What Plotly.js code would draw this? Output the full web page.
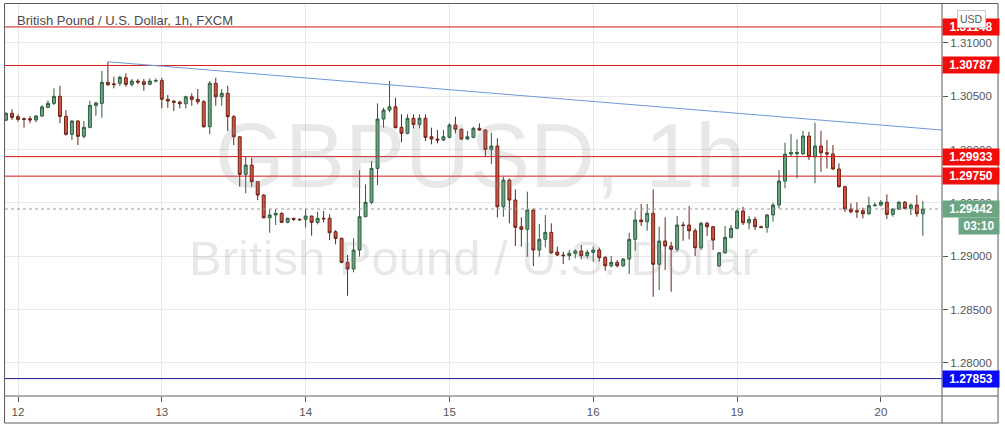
<!DOCTYPE html>
<html>
<head>
<meta charset="utf-8">
<script src="https://cdn.plot.ly/plotly-3.0.1.min.js"></script>
<style>
html,body{margin:0;padding:0;background:#fff;}
#chart{width:1005px;height:427px;}
</style>
</head>
<body>
<div id="chart"></div>
<script>
// ---- Data (GBP/USD, 1h, FXCM) ----
const firstHour = -2; // first bar: two hours before day "12" starts
const opens = [1.30274,1.30339,1.30307,1.30288,1.30288,1.30276,1.30313,1.30395,1.30432,1.30498,1.30310,1.30142,1.30266,1.30123,1.30207,1.30413,1.30432,1.30629,1.30615,1.30620,1.30672,1.30610,1.30641,1.30635,1.30610,1.30641,
1.30645,1.30470,1.30454,1.30444,1.30428,1.30494,1.30470,1.30447,1.30213,1.30620,1.30494,1.30526,1.30307,1.30119,1.29767,1.29854,1.29698,1.29573,1.29360,1.29386,1.29401,1.29317,1.29355,1.29345,
1.29345,1.29376,1.29317,1.29355,1.29355,1.29229,1.29167,1.28942,1.28880,1.29058,1.29370,1.29505,1.29823,1.30285,1.30369,1.30400,1.30207,1.30151,1.30292,1.30235,1.30292,1.30119,1.30098,1.30088,
1.30114,1.30229,1.30189,1.30098,1.30114,1.30198,1.30182,1.30001,1.30032,1.29463,1.29713,1.29526,1.29276,1.29252,1.29432,1.29058,1.29158,1.29223,1.29039,1.29011,1.29005,1.29027,1.29048,1.29005,
1.29036,1.29058,1.28989,1.28910,1.28942,1.28910,1.28973,1.29158,1.29339,1.29323,1.29401,1.28924,1.29142,1.29095,1.29064,1.29292,1.29292,1.29238,1.29079,1.29308,1.29276,1.28908,
1.29032,1.29176,1.29261,1.29423,1.29313,1.29345,1.29276,1.29270,1.29386,1.29479,1.29704,1.29957,1.29960,1.29960,1.30126,1.29932,1.30032,1.29969,1.29958,1.29817,1.29651,1.29442,1.29426,1.29426,
1.29398,1.29473,1.29479,1.29505,1.29392,1.29442,1.29505,1.29448,1.29479,1.29398];
const highs = [1.30348,1.30376,1.30329,1.30301,1.30313,1.30323,1.30416,1.30460,1.30573,1.30597,1.30369,1.30276,1.30276,1.30266,1.30457,1.30447,1.30735,1.30822,1.30681,1.30691,1.30713,1.30660,1.30660,1.30660,1.30666,1.30666,
1.30672,1.30510,1.30456,1.30456,1.30503,1.30526,1.30566,1.30463,1.30641,1.30672,1.30566,1.30597,1.30323,1.30125,1.29932,1.29922,1.29704,1.29580,1.29442,1.29442,1.29411,1.29360,1.29360,1.29355,
1.29442,1.29379,1.29416,1.29423,1.29392,1.29245,1.29173,1.29011,1.29167,1.29807,1.29673,1.29892,1.30432,1.30391,1.30641,1.30485,1.30329,1.30329,1.30329,1.30329,1.30329,1.30204,1.30182,1.30182,
1.30245,1.30307,1.30198,1.30173,1.30213,1.30245,1.30189,1.30157,1.30104,1.29744,1.29729,1.29626,1.29364,1.29604,1.29448,1.29301,1.29386,1.29308,1.29089,1.29042,1.29058,1.29064,1.29105,1.29058,
1.29089,1.29080,1.29001,1.29001,1.28964,1.28980,1.29220,1.29426,1.29489,1.29489,1.29626,1.29276,1.29364,1.29135,1.29376,1.29323,1.29470,1.29261,1.29323,1.29323,1.29283,1.29040,
1.29283,1.29292,1.29439,1.29463,1.29376,1.29370,1.29286,1.29395,1.29501,1.29807,1.30063,1.30145,1.30095,1.30175,1.30166,1.30250,1.30175,1.30088,1.30041,1.29870,1.29660,1.29495,1.29504,1.29454,
1.29557,1.29504,1.29526,1.29579,1.29448,1.29517,1.29517,1.29495,1.29573,1.29517];
const lows = [1.30271,1.30276,1.30260,1.30204,1.30245,1.30254,1.30307,1.30385,1.30416,1.30245,1.30129,1.30088,1.30041,1.30104,1.30198,1.30316,1.30297,1.30597,1.30573,1.30594,1.30588,1.30588,1.30610,1.30550,1.30604,1.30629,
1.30385,1.30391,1.30360,1.30385,1.30385,1.30410,1.30423,1.30204,1.30142,1.30410,1.30410,1.30173,1.30041,1.29651,1.29589,1.29651,1.29526,1.29355,1.29220,1.29292,1.29310,1.29308,1.29329,1.29330,
1.29267,1.29192,1.29298,1.29317,1.29151,1.29111,1.28933,1.28629,1.28849,1.28995,1.29365,1.29486,1.29667,1.30204,1.30348,1.30198,1.30067,1.30142,1.30198,1.30198,1.30079,1.30048,1.30057,1.30079,
1.30104,1.30151,1.30088,1.30088,1.30104,1.30176,1.29932,1.29863,1.29364,1.29370,1.29308,1.29095,1.29089,1.28995,1.28908,1.28995,1.29083,1.29020,1.29001,1.28926,1.28964,1.28980,1.28971,1.28980,
1.28948,1.28948,1.28864,1.28895,1.28895,1.28901,1.28833,1.29051,1.29283,1.29238,1.28620,1.28683,1.28870,1.28667,1.29042,1.29145,1.29158,1.29001,1.29058,1.29189,1.29058,1.28901,
1.29020,1.29167,1.29252,1.29292,1.29252,1.29245,1.29261,1.29220,1.29323,1.29448,1.29636,1.29932,1.29729,1.29948,1.29901,1.29683,1.29791,1.29823,1.29807,1.29642,1.29416,1.29401,1.29360,1.29355,
1.29386,1.29467,1.29467,1.29348,1.29370,1.29433,1.29439,1.29386,1.29370,1.29192];
const closes = [1.30339,1.30301,1.30282,1.30282,1.30276,1.30313,1.30398,1.30432,1.30498,1.30310,1.30142,1.30266,1.30123,1.30207,1.30413,1.30435,1.30629,1.30606,1.30608,1.30676,1.30610,1.30641,1.30632,1.30610,1.30641,1.30645,
1.30470,1.30454,1.30442,1.30428,1.30494,1.30470,1.30447,1.30213,1.30620,1.30494,1.30526,1.30307,1.30119,1.29767,1.29854,1.29698,1.29573,1.29360,1.29386,1.29401,1.29317,1.29355,1.29345,1.29342,
1.29376,1.29317,1.29355,1.29350,1.29220,1.29167,1.28942,1.28880,1.29058,1.29370,1.29505,1.29823,1.30285,1.30369,1.30400,1.30204,1.30151,1.30292,1.30235,1.30292,1.30114,1.30098,1.30088,1.30119,
1.30229,1.30189,1.30098,1.30119,1.30198,1.30182,1.30001,1.30032,1.29463,1.29713,1.29526,1.29270,1.29252,1.29432,1.29058,1.29158,1.29223,1.29032,1.29011,1.29005,1.29027,1.29048,1.29005,1.29036,
1.29058,1.28985,1.28910,1.28942,1.28910,1.28973,1.29158,1.29339,1.29323,1.29401,1.28924,1.29142,1.29095,1.29064,1.29292,1.29288,1.29238,1.29079,1.29308,1.29276,1.29151,1.29032,
1.29176,1.29261,1.29423,1.29313,1.29345,1.29276,1.29270,1.29386,1.29479,1.29704,1.29957,1.29973,1.29973,1.30126,1.29932,1.30032,1.29969,1.29958,1.29817,1.29651,1.29442,1.29416,1.29416,1.29398,
1.29473,1.29479,1.29505,1.29392,1.29442,1.29505,1.29448,1.29479,1.29398,1.29442];

const dayStartHours = [0, 24, 48, 72, 96, 120, 144];
const dayLabels = ['12', '13', '14', '15', '16', '19', '20'];

const resistanceLevels = [1.31148, 1.30787, 1.29933, 1.29750];
const supportLevel = 1.27853;
const trendEndPrice = 1.30182;   // trend line value at the right edge
const countdown = '03:10';
const titleText = 'British Pound / U.S. Dollar, 1h, FXCM';
const watermarkSymbol = 'GBPUSD, 1h';
const watermarkName = 'British Pound / U.S. Dollar';
const currency = 'USD';

// ---- Build ----
const xs = opens.map((_, i) => i + firstHour);
const xRange = [-2.17, 154.2];
const yRange = [1.27690, 1.31363];
const lastPrice = closes[closes.length - 1];
let peakIdx = 0;
highs.forEach((h, i) => { if (h > highs[peakIdx]) peakIdx = i; });

const FONT = 'Liberation Sans, Arial, sans-serif';
const AXC = '#555555';

const trace = {
  type: 'candlestick',
  x: xs, open: opens, high: highs, low: lows, close: closes,
  increasing: { line: { color: '#2f5e41', width: 1 }, fillcolor: '#6ba583' },
  decreasing: { line: { color: '#6b2418', width: 1 }, fillcolor: '#d75442' },
  whiskerwidth: 0,
  hoverinfo: 'skip',
  showlegend: false
};

const shapes = [];
resistanceLevels.forEach(v => shapes.push({
  type: 'line', xref: 'paper', x0: 0, x1: 1, yref: 'y', y0: v, y1: v,
  line: { color: '#d41a1a', width: 1 }, layer: 'above'
}));
shapes.push({
  type: 'line', xref: 'paper', x0: 0, x1: 1, yref: 'y', y0: supportLevel, y1: supportLevel,
  line: { color: '#1c1c96', width: 1 }, layer: 'above'
});
shapes.push({
  type: 'line', xref: 'x', x0: xs[peakIdx], x1: xRange[1], yref: 'y', y0: highs[peakIdx], y1: trendEndPrice,
  line: { color: '#6f9ad6', width: 1 }, layer: 'above'
});
shapes.push({
  type: 'line', xref: 'paper', x0: 0, x1: 1, yref: 'y', y0: lastPrice, y1: lastPrice,
  line: { color: '#9a9a9a', width: 1, dash: 'dot' }, layer: 'above'
});
// frame & separators
shapes.push({ type: 'rect', xref: 'paper', yref: 'paper', x0: -0.0005, x1: 1.0598, y0: -0.0689, y1: 1.0013,
  line: { color: '#5a5a5a', width: 1 }, layer: 'above' });
shapes.push({ type: 'line', xref: 'paper', yref: 'paper', x0: 1, x1: 1, y0: -0.0689, y1: 1.0013,
  line: { color: '#5a5a5a', width: 1 }, layer: 'above' });
shapes.push({ type: 'line', xref: 'paper', yref: 'paper', x0: -0.0005, x1: 1.0598, y0: 0, y1: 0,
  line: { color: '#5a5a5a', width: 1 }, layer: 'above' });

const annotations = [];
// watermark
annotations.push({ xref: 'paper', yref: 'paper', x: 0.507, y: 0.612, text: watermarkSymbol, showarrow: false,
  xanchor: 'center', yanchor: 'middle',
  font: { family: 'Liberation Sans, sans-serif', size: 90, color: 'rgba(140,140,140,0.2)' } });
annotations.push({ xref: 'paper', yref: 'paper', x: 0.4995, y: 0.352, text: watermarkName, showarrow: false,
  xanchor: 'center', yanchor: 'middle',
  font: { family: 'Liberation Sans, sans-serif', size: 49, color: 'rgba(140,140,140,0.2)' } });
// title
annotations.push({ xref: 'paper', yref: 'paper', x: 0.0107, y: 0.958, text: titleText, showarrow: false,
  xanchor: 'left', yanchor: 'middle', font: { family: FONT, size: 13, color: '#4a4a4a' } });

function priceLabel(v, bg, extra) {
  return Object.assign({
    xref: 'paper', yref: 'y', x: 1, y: v, xanchor: 'left', yanchor: 'middle',
    text: v.toFixed(5), showarrow: false, bgcolor: bg, borderpad: 3, width: 50, height: 10,
    font: { family: FONT, size: 12, color: '#ffffff', weight: 'bold' }
  }, extra || {});
}
resistanceLevels.forEach(v => annotations.push(priceLabel(v, '#f20d0d')));
annotations.push(priceLabel(supportLevel, '#0a0af5'));
annotations.push(priceLabel(lastPrice, '#6ba583'));
annotations.push(priceLabel(lastPrice, '#6ba583', { text: countdown, width: 34, xshift: 16, yshift: -17 }));
annotations.push({ xref: 'paper', yref: 'paper', x: 1.031, y: 0.962, text: currency, showarrow: false,
  xanchor: 'center', yanchor: 'middle', bgcolor: '#ffffff', bordercolor: '#c8c8c8', borderwidth: 1, borderpad: 2,
  font: { family: FONT, size: 10.5, color: '#555555' } });

const layout = {
  width: 1005, height: 427,
  margin: { l: 5, r: 63, t: 4, b: 31, pad: 0 },
  paper_bgcolor: '#ffffff', plot_bgcolor: '#ffffff',
  showlegend: false,
  boxgap: 0.3,
  xaxis: {
    range: xRange, type: 'linear', rangeslider: { visible: false },
    tickmode: 'array', tickvals: dayStartHours, ticktext: dayLabels,
    showgrid: true, gridcolor: '#e9e9e9', gridwidth: 1, zeroline: false,
    ticks: 'outside', ticklen: 5, tickcolor: AXC, showline: false,
    tickfont: { family: FONT, size: 11.5, color: AXC }, fixedrange: true
  },
  yaxis: {
    range: yRange, side: 'right', dtick: 0.005, tick0: 1.28, tickformat: '.5f',
    showgrid: true, gridcolor: '#e9e9e9', gridwidth: 1, zeroline: false,
    ticks: 'outside', ticklen: 5, tickcolor: AXC, showline: false,
    tickfont: { family: FONT, size: 11.5, color: AXC }, fixedrange: true
  },
  shapes: shapes,
  annotations: annotations,
  hovermode: false
};

Plotly.newPlot('chart', [trace], layout, { displayModeBar: false, staticPlot: true });
</script>
</body>
</html>
